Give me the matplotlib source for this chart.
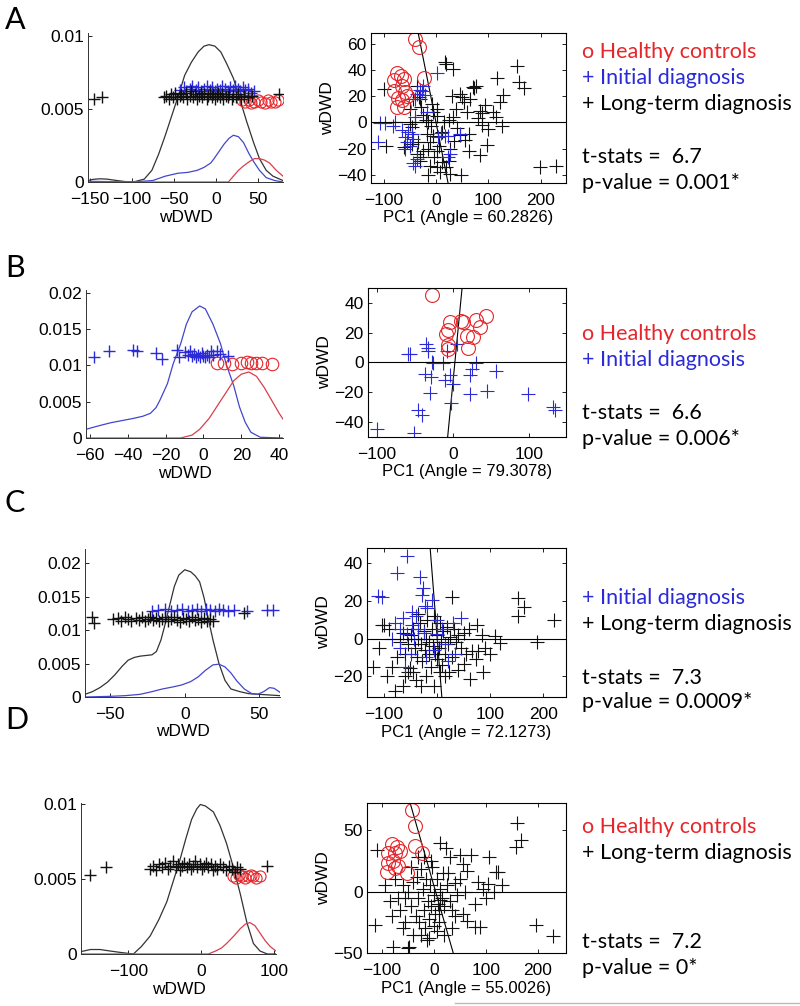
import numpy as np
import matplotlib
matplotlib.use('Agg')
import matplotlib.pyplot as plt
from matplotlib.lines import Line2D

plt.rcParams['font.family'] = ['Liberation Sans', 'DejaVu Sans']
plt.rcParams['axes.unicode_minus'] = True

RED = '#e5262b'
BLUE = '#2a2ad8'
BLK = '#111111'
C_BLK = '#333333'
C_BLUE = '#4545cc'
C_RED = '#d6404c'

# ---------------- Panel A ----------------
a_kb_x = [-152, -146, -138, -130, -120, -108, -98, -85, -76, -68, -60, -52, -44, -37, -29, -21, -14, -8, -1, 6, 13, 21, 29, 37, 45, 52, 60, 68, 80]
a_kb_y = [0.0001, 0.00018, 0.00022, 0.0002, 0.00012, 0.00003, 0.0, 0.0002, 0.0008, 0.0019, 0.0032, 0.0046, 0.006, 0.0073, 0.0082, 0.0089, 0.0093, 0.0094, 0.0093, 0.0089, 0.0081, 0.0071, 0.0056, 0.0041, 0.0027, 0.0016, 0.0008, 0.0004, 0.0001]
a_kbl_x = [-152, -100, -75, -60, -45, -33, -22, -14, -6, -2, 4, 10, 16, 21, 27, 33, 39, 45, 52, 60, 70, 80]
a_kbl_y = [0.00005, 0.0, 0.0001, 0.0004, 0.0006, 0.00066, 0.0008, 0.001, 0.0013, 0.0016, 0.0021, 0.0026, 0.003, 0.0032, 0.0031, 0.0027, 0.002, 0.0014, 0.0008, 0.0003, 0.0001, 0.0]
a_kr_x = [-152, 15, 21, 27, 33, 40, 46, 52, 58, 64, 72, 80]
a_kr_y = [0.0, 0.0, 0.0004, 0.0008, 0.0011, 0.0014, 0.0016, 0.0016, 0.0015, 0.0013, 0.0008, 0.0004]

a_sb_x = [-145, -135, -62, -59, -56, -53, -51, -48, -46, -43, -41, -39, -36, -34, -31, -29, -27, -25, -22, -20, -18, -16, -14, -11, -9, -7, -5, -3, -1, 1, 3, 5, 7, 9, 12, 14, 16, 19, 21, 24, 27, 30, 34, 38, 43, 75]
a_sb_y = [0.0057, 0.0058, 0.0058, 0.0059, 0.0057, 0.006, 0.0058, 0.0061, 0.0057, 0.0059, 0.006, 0.0058, 0.0061, 0.0057, 0.0059, 0.0062, 0.0058, 0.006, 0.0057, 0.0059, 0.0061, 0.0058, 0.006, 0.0057, 0.0059, 0.0061, 0.0058, 0.006, 0.0057, 0.0059, 0.0061, 0.0058, 0.006, 0.0057, 0.0059, 0.0058, 0.006, 0.0057, 0.0059, 0.0058, 0.006, 0.0057, 0.0059, 0.0058, 0.0059, 0.006]
a_sbl_x = [-42, -38, -35, -31, -28, -24, -21, -17, -14, -10, -7, -4, -1, 2, 5, 8, 11, 14, 17, 20, 23, 26, 29, 32, 35, 38, 42, 46]
a_sbl_y = [0.0063, 0.0065, 0.0062, 0.0064, 0.0066, 0.0063, 0.0065, 0.0062, 0.0064, 0.0066, 0.0063, 0.0065, 0.0062, 0.0064, 0.0063, 0.0066, 0.0064, 0.0062, 0.0065, 0.0063, 0.0066, 0.0064, 0.0062, 0.0065, 0.0063, 0.0064, 0.0061, 0.0062]
a_sr_x = [31, 35, 39, 42, 46, 50, 54, 58, 62, 66, 70, 74]
a_sr_y = [0.0056, 0.0055, 0.0056, 0.0054, 0.0055, 0.0056, 0.0055, 0.0054, 0.0056, 0.0055, 0.0055, 0.0056]

a_red_x = [-40, -32, -75, -67, -62, -80, -64, -80, -72, -64, -75, -62, -23, -55, -60]
a_red_y = [63.5, 57, 37.5, 35, 33, 32, 28, 24, 18.5, 17, 11.6, 12, 34, 20, 23]
a_blue_x = [1, -24, -36, -40, -40, -107, -97, -79, -110, -59, -56, -46, -60, -43, -37, 17, 4, 10, 23, -82, -53, -65, -21, -26, -43, 27, 46, 22, -40, -30, -18, -50]
a_blue_y = [37.4, 28, 22, 18, 4, -0.5, -0.5, 0, -15, -11, -15, -8.6, -20, -31, -28, -10, -11, -8, -26, -3, -7.5, -6, 20.5, 24, -12.4, -24, -8.6, -10, -33, 25, 8, -18]
a_blk_x = [17, 33, 20, 116, 155, 159, 168, 128, 122, 76, 72, 46, 53, 64, 39, 33, 24, 84, 87, 109, 115, 80, 62, 46, 55, 97, 83, 62, 27, 25, 2, 20, 27, 47, -15, 198, 229, -5, 11, -15, -30, 2, -25, -11, -100, -95, -43, -36, -33, -30, -8, 1, -24, 1, -46, -49, -62, -46, -37, -30, -15, -4, -18, 49, 71, 93, 88, -28, -20, -10, 5, 12, 35, -5, 15, 40, -12, 8, -35, 30, 60, 100, 125, -50, -40]
a_blk_y = [46, 41, 44.6, 34, 43, 31, 26, 20.5, 15.4, 28, 26, 22, 15.4, 18, 10.4, 4, 1.6, 9, -2.3, 7.8, 4, 3.4, -8.6, -9.8, -13.5, -17.5, -25, -22, -20, -29, -22, -34, -39, -40, -40, -34, -33, -10, -7, 0, -29, -34, -22, -15, 25.6, -18, 18, 28, 19, 18, 14, 10.4, 5.3, 5, -3.5, -1, -19, -16, -24, -26.6, -20, -26.6, -8.6, 19, 27, 13, 7, 12, 2, -3, -18, -30, -14, 8, 0, -4, -33, -38, -15, 20, 8, -5, -3, 10, 0]
a_line_x = [-34, 23]
a_line_y = [68, -46]

# ---------------- Panel B ----------------
b_kbl_x = [-62, -55, -49, -43, -37, -32, -28, -25, -23, -19, -16, -12, -9, -6, -2, 1, 5, 9, 12, 16, 19, 22, 25, 30, 42]
b_kbl_y = [0.0012, 0.0017, 0.0021, 0.0024, 0.0027, 0.003, 0.0034, 0.0042, 0.0052, 0.0075, 0.0102, 0.013, 0.0157, 0.0174, 0.0182, 0.0178, 0.0157, 0.013, 0.0102, 0.0072, 0.0043, 0.0022, 0.0008, 0.0001, 0.0]
b_kr_x = [-62, -12, -6, -2, 3, 7, 12, 16, 20, 24, 28, 32, 36, 40, 42]
b_kr_y = [0.0, 0.0, 0.0004, 0.0012, 0.0027, 0.0043, 0.0063, 0.0079, 0.0088, 0.0091, 0.0085, 0.007, 0.0052, 0.0034, 0.0026]
b_sbl_x = [-58, -50, -37, -35, -25, -22, -14, -13, -10, -8, -7, -6, -5, -4, -3, -2, -1, 0, 1, 2, 3, 4, 5, 7, 9, 13]
b_sbl_y = [0.0112, 0.012, 0.0121, 0.012, 0.0117, 0.0109, 0.0121, 0.0111, 0.0118, 0.0115, 0.012, 0.0113, 0.0116, 0.0111, 0.0114, 0.0112, 0.0117, 0.0113, 0.0111, 0.0115, 0.0112, 0.012, 0.0114, 0.012, 0.0116, 0.0113]
b_sr_x = [7, 11, 15, 20, 23, 25, 28, 31, 36]
b_sr_y = [0.0104, 0.0104, 0.0102, 0.0103, 0.0105, 0.0103, 0.0104, 0.0103, 0.0102]

b_red_x = [-28, -4, 11, 31, 44, 35, -9, -7, 18, 26, -7, 20, 13, -6]
b_red_y = [45, 27, 28, 28.6, 31, 24, 19, 22, 18, 17, 12, 9.4, 27, 9]
b_blue_x = [-57, -59, -35, -33, -33, -28, -26, -13, -8, 5, -37, -29, -4, 0.5, 23, 25, 31, 57, -30, 22, 45, 99, -3, -46, -41, -51, 132, 135, -100, -10]
b_blue_y = [6, 5.5, 12.5, 10, 7.6, 0.2, -0.4, -0.5, 8, 12.5, -7.6, -10, -8.7, -14.3, -8.7, -4.2, -0.5, -5.8, -20.6, -21, -19, -21, -27, -32, -35, -47, -30, -32, -44.5, -12]
b_line_x = [12, -7]
b_line_y = [50, -50]

# ---------------- Panel C ----------------
c_kb_x = [-67, -62, -57, -52, -47, -42, -38, -34, -30, -26, -22, -19, -16, -13, -10, -7, -4, 0, 4, 7, 10, 13, 16, 19, 23, 27, 31, 37, 43, 50, 57, 64]
c_kb_y = [0.0004, 0.0008, 0.0014, 0.0022, 0.0033, 0.0046, 0.0055, 0.0059, 0.0061, 0.0062, 0.0063, 0.0068, 0.0085, 0.011, 0.0138, 0.0165, 0.0182, 0.019, 0.0187, 0.0181, 0.0172, 0.0148, 0.0115, 0.0085, 0.005, 0.0025, 0.0012, 0.0008, 0.0005, 0.0004, 0.0003, 0.0002]
c_kbl_x = [-67, -50, -40, -30, -22, -15, -8, -2, 4, 9, 14, 19, 23, 27, 31, 35, 40, 45, 49, 53, 57, 60, 64]
c_kbl_y = [0.0, 0.0001, 0.0002, 0.0004, 0.0008, 0.0012, 0.0015, 0.0018, 0.0023, 0.003, 0.004, 0.0048, 0.0049, 0.0045, 0.0036, 0.0024, 0.0012, 0.0005, 0.0004, 0.0008, 0.0014, 0.0013, 0.0007]
c_sb_x = [-62, -61, -48, -45, -43, -40, -38, -36, -33, -31, -29, -27, -25, -23, -21, -19, -17, -15, -13, -11, -9, -7, -5, -3, -1, 1, 3, 5, 7, 9, 11, 13, 15, 17, 19, 40]
c_sb_y = [0.0119, 0.0111, 0.0117, 0.0118, 0.0114, 0.0119, 0.0116, 0.0113, 0.0118, 0.0115, 0.012, 0.0114, 0.0117, 0.0119, 0.0115, 0.0118, 0.0113, 0.0116, 0.012, 0.0114, 0.0117, 0.0119, 0.0115, 0.0112, 0.0118, 0.0116, 0.0113, 0.0119, 0.0115, 0.0117, 0.0112, 0.0118, 0.0114, 0.0116, 0.0113, 0.0125]
c_sbl_x = [-22, -18, -13, -9, -5, -2, 2, 5, 8, 11, 14, 17, 20, 23, 26, 29, 33, 42, 55, 59]
c_sbl_y = [0.0128, 0.013, 0.0131, 0.0129, 0.013, 0.0132, 0.0128, 0.013, 0.0131, 0.0129, 0.0132, 0.013, 0.0128, 0.0131, 0.013, 0.0129, 0.013, 0.0128, 0.013, 0.013]

c_blue_x = [-56, -76, -32, -27, -29, -111, -104, -10, -18, -48, -64, -69, -47, -56, -44, -1, 10, 46, -22, 34, -70, -50, -20, 20, -60, -35, -25, 0, -40, -80, -85, 30, 15, -5]
c_blue_y = [44, 34.6, 32.5, 26.7, 23, 22.6, 22, 20.5, 16, 14, 10.9, 5, 7, 2.5, 0, 2.5, 5, 10.9, 17, -8.4, -5, -8, -10, -12, -15, 5, 3, 10, 12, 8, 0, 8, -3, -6]
c_blk_x = [28, -104, -36, 153, 164, 153, 221, 188, 119, 109, 75, 78, 66, 87, 62, 50, 39, 73, -45, -51, -16, 0, -70, -65, -60, -55, -50, -45, -42, -38, -35, -32, -30, -28, -25, -22, -20, -18, -15, -12, -10, -8, -5, -3, 0, 3, 5, 8, 10, 12, 15, 18, 20, 22, 25, 28, 32, 35, 40, 45, 50, 55, -75, -85, -90, -60, -40, -20, -30, -55, -65, 5, 15, -5, -110, -120, -95, -80, -100, 60, 90, 100, 85]
c_blk_y = [22, 7.4, 13, 21.4, 16.7, 11.7, 10, -2, -2.3, 1.2, 7.4, -6.7, -6.7, -18, -21.6, -13.7, -16.7, -11, -18, -15.7, -8.4, -11, -2, 3, -8, -3, 2, 5, -5, -10, 0, 8, -3, -12, 4, -6, 0, 10, -2, -15, 5, -4, 12, -8, 2, -5, 8, -2, -14, 4, -8, 6, -3, -18, 1, -10, 5, -2, 2, -5, 3, -8, -10, -15, 5, -20, -22, -20, -25, -18, -25, -18, -20, -25, -5, -15, -20, -28, 7, 5, -5, -8, 2]
c_line_x = [-13, 9]
c_line_y = [48, -31]

# ---------------- Panel D ----------------
d_kb_x = [-165, -152, -139, -125, -110, -93, -82, -70, -58, -47, -38, -29, -21, -13, -6, -1, 6, 17, 26, 35, 45, 54, 63, 72, 81, 91, 103]
d_kb_y = [0.00016, 0.0003, 0.0003, 0.0002, 0.0001, 0.0, 0.0005, 0.0012, 0.0023, 0.0035, 0.0049, 0.0063, 0.0077, 0.009, 0.0097, 0.01, 0.0099, 0.0095, 0.0086, 0.0074, 0.0057, 0.004, 0.0021, 0.0007, 0.0002, 0.0, 0.0]
d_kr_x = [-165, 10, 20, 28, 35, 45, 54, 61, 67, 74, 81, 88, 95, 103]
d_kr_y = [0.0, 0.0, 0.0002, 0.0004, 0.0007, 0.0012, 0.0017, 0.002, 0.0021, 0.0019, 0.0014, 0.0009, 0.0005, 0.0002]
d_sb_x = [-153, -130, -70, -66, -62, -58, -54, -50, -46, -42, -38, -35, -32, -29, -26, -23, -20, -17, -14, -11, -8, -5, -2, 1, 4, 7, 10, 13, 16, 19, 22, 26, 30, 34, 38, 42, 46, 50, 54, 91]
d_sb_y = [0.0053, 0.0058, 0.0057, 0.0059, 0.0056, 0.006, 0.0058, 0.0061, 0.0057, 0.0059, 0.0062, 0.0058, 0.006, 0.0056, 0.0059, 0.0061, 0.0058, 0.006, 0.0057, 0.0059, 0.0062, 0.0058, 0.006, 0.0057, 0.0059, 0.0061, 0.0058, 0.006, 0.0056, 0.0059, 0.0057, 0.006, 0.0058, 0.0056, 0.0059, 0.0057, 0.0055, 0.0058, 0.0057, 0.0059]
d_sr_x = [44, 48, 52, 56, 60, 64, 68, 72, 76, 81]
d_sr_y = [0.0052, 0.0051, 0.0053, 0.0052, 0.0051, 0.0052, 0.0053, 0.0052, 0.0051, 0.0052]

d_red_x = [-43, -36.5, -36.5, -24, -81, -72, -88, -75, -65, -78, -88, -69, -91, -75, -52]
d_red_y = [66.7, 53, 37, 31, 38.4, 36, 31, 31, 33, 24.7, 23.4, 20.7, 15.6, 19, 15]
d_blk_x = [-110, -113, -78, -50, 11.5, 24, 50, 72, 106, 124, 159, 168, 158, 197, 229, 120, 104, 116, 79, 88, 78, 63, 63, 56, 31, 27, 40, 84, 11.5, 9, -1, -14, -49, -60, -55, -50, -45, -40, -35, -32, -30, -28, -25, -22, -20, -18, -15, -12, -10, -8, -5, -3, 0, 2, 5, 8, 10, 12, 15, 18, 20, 25, 30, 35, 40, 45, 50, 55, 60, -65, -70, -75, -80, -85, -60, -40, -25, -10, 5, -30, -20, -95, 95, 100, 130, -5, -45, -55, 20, 35]
d_blk_y = [33.6, -27, -45, -45.6, 39.8, 35.5, 30, 29.6, 28, 15.6, 56, 42, 36, -27, -36.3, 15.6, 6.2, -0.4, -10, -28.8, -28.8, -24, 17, 22, 27.7, 15, 7, 8, -7, -15, -28, -39.5, -45, 5, -5, 0, -12, 8, -20, 12, -5, -25, 18, 2, -15, -30, 10, -8, -22, 5, -12, 20, -3, -18, 10, -10, -25, 2, -5, 15, -12, 5, -8, -15, -20, -3, 10, -18, 0, -15, -5, 10, -20, -8, -30, -35, -35, -38, -32, 28, 28, 5, 2, -5, 5, 25, 20, -25, -35, -30]
d_line_x = [-46, 37]
d_line_y = [72, -50]

# axis ranges and ticks
left_xlim = [(-152, 80), (-62, 42), (-67, 64), (-165, 103)]
left_ylim = [(0, 0.0102), (0, 0.0204), (0, 0.0221), (0, 0.0101)]
left_xticks = [[-150, -100, -50, 0, 50], [-60, -40, -20, 0, 20, 40], [-50, 0, 50], [-100, 0, 100]]
left_yticks = [[0, 0.005, 0.01], [0, 0.005, 0.01, 0.015, 0.02], [0, 0.005, 0.01, 0.015, 0.02], [0, 0.005, 0.01]]
left_ylabels = [['0', '0.005', '0.01'], ['0', '0.005', '0.01', '0.015', '0.02'], ['0', '0.005', '0.01', '0.015', '0.02'], ['0', '0.005', '0.01']]
right_xlim = [(-124, 248), (-112, 149), (-132, 243), (-129, 254)]
right_ylim = [(-46, 68), (-50, 50), (-31, 48), (-50, 72)]
right_xticks = [[-100, 0, 100, 200], [-100, 0, 100], [-100, 0, 100, 200], [-100, 0, 100, 200]]
right_yticks = [[-40, -20, 0, 20, 40, 60], [-40, -20, 0, 20, 40], [-20, 0, 20, 40], [-50, 0, 50]]
angles = ['60.2826', '79.3078', '72.1273', '55.0026']

# axes boxes in pixels: left, top, right, bottom
left_px = [(88, 33, 283, 182), (86, 290, 283, 438), (85, 549, 280, 697), (81, 803, 276, 954)]
right_px = [(371, 33, 566, 183), (368, 288, 566, 437), (367, 548, 566, 697), (367, 803, 566, 953)]

W, H = 800, 1006
fig = plt.figure(figsize=(8, 10.06), dpi=100)


def box(p):
    l, t, r, b = p
    return [l / W, 1 - b / H, (r - l) / W, (b - t) / H]


def style_left(ax, i):
    ax.spines['top'].set_visible(False)
    ax.spines['right'].set_visible(False)
    ax.set_xlim(*left_xlim[i])
    ax.set_ylim(*left_ylim[i])
    ax.set_xticks(left_xticks[i])
    ax.set_yticks(left_yticks[i])
    ax.set_yticklabels(left_ylabels[i])
    ax.tick_params(direction='in', length=3, labelsize=12.5, width=0.6)
    ax.tick_params(axis='x', pad=7)
    ax.tick_params(axis='y', pad=3)
    for s in ax.spines.values():
        s.set_linewidth(0.7)
        s.set_color('#333333')
    ax.set_xlabel('wDWD', fontsize=12.5, labelpad=2)


def style_right(ax, i):
    ax.set_xlim(*right_xlim[i])
    ax.set_ylim(*right_ylim[i])
    ax.set_xticks(right_xticks[i])
    ax.set_yticks(right_yticks[i])
    ax.tick_params(direction='in', length=3, labelsize=12.5, width=0.6,
                   top=True, right=True)
    ax.tick_params(axis='x', pad=7)
    ax.tick_params(axis='y', pad=3)
    for s in ax.spines.values():
        s.set_linewidth(0.8)
    ax.axhline(0, color='k', lw=0.8)
    ax.set_xlabel('PC1 (Angle = ' + angles[i] + ')', fontsize=12, labelpad=2)
    ax.set_ylabel('wDWD', fontsize=12.5, labelpad=2)


def plus(ax, x, y, c, ms=10, mew=0.8):
    ax.plot(x, y, '+', color=c, ms=ms, mew=mew, ls='none')


def circ(ax, x, y, ms=10):
    ax.plot(x, y, 'o', mfc='none', mec=RED, ms=ms, mew=0.8, ls='none')


axl = [fig.add_axes(box(p)) for p in left_px]
axr = [fig.add_axes(box(p)) for p in right_px]

# A
ax = axl[0]
ax.plot(a_kb_x, a_kb_y, color=C_BLK, lw=0.9)
ax.plot(a_kbl_x, a_kbl_y, color=C_BLUE, lw=0.9)
ax.plot(a_kr_x, a_kr_y, color=C_RED, lw=0.9)
circ(ax, a_sr_x, a_sr_y, 8)
plus(ax, a_sbl_x, a_sbl_y, BLUE, 8, 1.0)
plus(ax, a_sb_x, a_sb_y, BLK, 8, 1.0)
style_left(ax, 0)
ax = axr[0]
ax.plot(a_line_x, a_line_y, color='k', lw=0.8)
plus(ax, a_blk_x, a_blk_y, BLK)
plus(ax, a_blue_x, a_blue_y, BLUE)
circ(ax, a_red_x, a_red_y)
style_right(ax, 0)

# B
ax = axl[1]
ax.plot(b_kbl_x, b_kbl_y, color=C_BLUE, lw=0.9)
ax.plot(b_kr_x, b_kr_y, color=C_RED, lw=0.9)
circ(ax, b_sr_x, b_sr_y, 9)
plus(ax, b_sbl_x, b_sbl_y, BLUE, 9, 1.0)
style_left(ax, 1)
ax = axr[1]
ax.plot(b_line_x, b_line_y, color='k', lw=0.8)
plus(ax, b_blue_x, b_blue_y, BLUE)
circ(ax, b_red_x, b_red_y)
style_right(ax, 1)

# C
ax = axl[2]
ax.plot(c_kb_x, c_kb_y, color=C_BLK, lw=0.9)
ax.plot(c_kbl_x, c_kbl_y, color=C_BLUE, lw=0.9)
plus(ax, c_sbl_x, c_sbl_y, BLUE, 8, 1.0)
plus(ax, c_sb_x, c_sb_y, BLK, 8, 1.0)
style_left(ax, 2)
ax = axr[2]
ax.plot(c_line_x, c_line_y, color='k', lw=0.8)
plus(ax, c_blk_x, c_blk_y, BLK)
plus(ax, c_blue_x, c_blue_y, BLUE)
style_right(ax, 2)

# D
ax = axl[3]
ax.plot(d_kb_x, d_kb_y, color=C_BLK, lw=0.9)
ax.plot(d_kr_x, d_kr_y, color=C_RED, lw=0.9)
circ(ax, d_sr_x, d_sr_y, 8)
plus(ax, d_sb_x, d_sb_y, BLK, 8, 1.0)
style_left(ax, 3)
ax = axr[3]
ax.plot(d_line_x, d_line_y, color='k', lw=0.8)
plus(ax, d_blk_x, d_blk_y, BLK)
circ(ax, d_red_x, d_red_y)
style_right(ax, 3)

# panel letters and side text
TF = ['Lato', 'DejaVu Sans']
letters = ['A', 'B', 'C', 'D']
letter_y = [20, 268, 503, 720]
for k in range(4):
    fig.text(5 / W, 1 - letter_y[k] / H, letters[k], fontsize=22, family=TF, va='center', ha='left')

side = [
    [('o Healthy controls', RED, 52), ('+ Initial diagnosis', BLUE, 78), ('+ Long-term diagnosis', 'k', 104),
     ('t-stats =  6.7', 'k', 157), ('p-value = 0.001*', 'k', 183)],
    [('o Healthy controls', RED, 334), ('+ Initial diagnosis', BLUE, 360),
     ('t-stats =  6.6', 'k', 413), ('p-value = 0.006*', 'k', 439)],
    [('+ Initial diagnosis', BLUE, 598), ('+ Long-term diagnosis', 'k', 624),
     ('t-stats =  7.3', 'k', 678), ('p-value = 0.0009*', 'k', 702)],
    [('o Healthy controls', RED, 827), ('+ Long-term diagnosis', 'k', 853),
     ('t-stats =  7.2', 'k', 942), ('p-value = 0*', 'k', 968)],
]
for rows in side:
    for txt, col, yy in rows:
        fig.text(582 / W, 1 - yy / H, txt, color=col, fontsize=15.5, family=TF, va='center', ha='left')

fig.add_artist(Line2D([455 / W, 1], [1 - 1003 / H, 1 - 1003 / H], color='#bbbbbb', lw=1))

plt.savefig('out.png', dpi=100)
